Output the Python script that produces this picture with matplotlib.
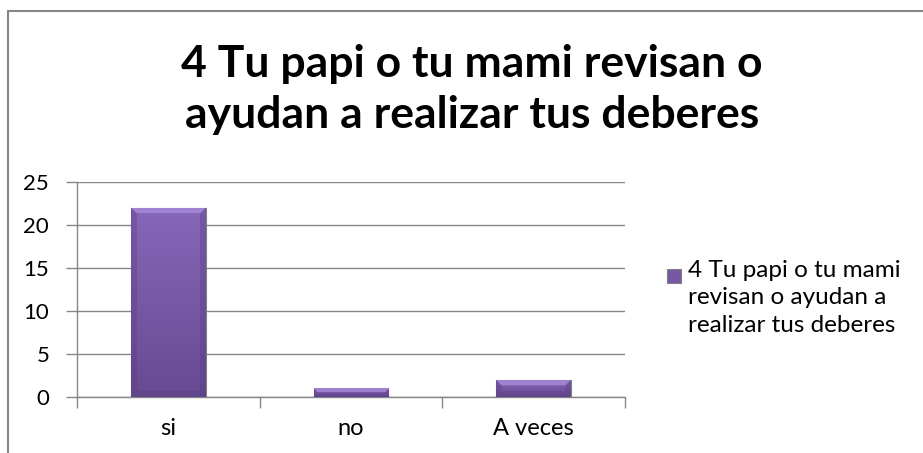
import numpy as np
import matplotlib
matplotlib.use("Agg")
import matplotlib.pyplot as plt
from matplotlib.patches import Rectangle
from matplotlib.colors import to_rgb
from matplotlib.container import BarContainer
from matplotlib.legend_handler import HandlerPatch, update_from_first_child

# chart data
categories = ["si", "no", "A veces"]
values = [22, 1, 2]
title_lines = ["4 Tu papi o tu mami revisan o", "ayudan a realizar tus deberes"]
legend_label = "4 Tu papi o tu mami\nrevisan o ayudan a\nrealizar tus deberes"
y_ticks = [0, 5, 10, 15, 20, 25]

plt.rcParams['font.family'] = ['Lato', 'DejaVu Sans']

W, H = 923, 453
fig = plt.figure(figsize=(W / 100, H / 100), dpi=100)
ax = fig.add_axes([77 / W, 1 - 397 / H, (625 - 77) / W, (397 - 182) / H])

grid_col = '#868686'
x = np.arange(len(categories))
bars = ax.bar(x, values, width=0.41, color='#7658a3', edgecolor='#808080',
              linewidth=0.8, label=legend_label, zorder=3)


def bevel_image(w, h, b=6):
    """Excel-like bevelled purple fill, w x h pixels."""
    top = np.array(to_rgb('#8767b9'))
    bot = np.array(to_rgb('#674a92'))
    light = np.array(to_rgb('#a88dd9'))
    dark = np.array(to_rgb('#563c7e'))
    img = np.zeros((h, w, 3))
    for r in range(h):
        t = r / max(h - 1, 1)
        base = top * (1 - t) + bot * t
        for c in range(w):
            col = base
            if r < b and r <= c and r <= w - 1 - c:
                col = light * 0.75 + base * 0.25
            elif c < b or c >= w - b:
                col = dark * 0.35 + base * 0.65
            elif r >= h - b:
                col = dark * 0.3 + base * 0.7
            img[r, c] = col
    return img


ax.set_xlim(-0.5, len(categories) - 0.5)
ax.set_ylim(0, 25)
for bar in bars:
    x0, y0 = bar.get_x(), bar.get_y()
    x1, y1 = x0 + bar.get_width(), y0 + bar.get_height()
    (px0, py0), (px1, py1) = ax.transData.transform([(x0, y0), (x1, y1)])
    wpx = max(int(round(px1 - px0)), 2)
    hpx = max(int(round(py1 - py0)), 2)
    im = ax.imshow(bevel_image(wpx, hpx, b=min(6, hpx // 2)),
                   extent=(x0, x1, y0, y1), origin='upper', aspect='auto',
                   interpolation='bilinear', zorder=3.5)
    im.set_clip_path(bar)
ax.set_xlim(-0.5, len(categories) - 0.5)
ax.set_ylim(0, 25)

ax.set_yticks(y_ticks)
ax.yaxis.grid(True, color=grid_col, lw=1.0)
ax.set_axisbelow(True)
for s in ['top', 'right']:
    ax.spines[s].set_visible(False)
for s in ['left', 'bottom']:
    ax.spines[s].set_color(grid_col)
    ax.spines[s].set_linewidth(1.0)

ax.set_xticks(np.arange(-0.5, len(categories)), labels=[])
ax.set_xticks(x, labels=categories, minor=True)
ax.tick_params(axis='x', which='major', length=8, width=1.0, color=grid_col)
ax.tick_params(axis='x', which='minor', length=0, pad=15, labelsize=17)
ax.tick_params(axis='y', length=8, width=1.0, color=grid_col, pad=12, labelsize=16)


# small square next to the first line of the legend text
def legend_square(legend, orig_handle, xdescent, ydescent, width, height, fontsize):
    side = 10.0
    return Rectangle((-xdescent, -ydescent + height - side - 6.5), side, side)


leg = ax.legend(handles=[bars], loc='upper left', bbox_to_anchor=(667 / W, 1 - 260 / H),
                bbox_transform=fig.transFigure, frameon=False, fontsize=17.5,
                handlelength=0.6, handleheight=1.0, handletextpad=0.25,
                borderpad=0, borderaxespad=0,
                handler_map={BarContainer: HandlerPatch(patch_func=legend_square,
                                                        update_func=update_from_first_child)})
for t in leg.get_texts():
    t.set_linespacing(1.38)
for col in leg._legend_handle_box.get_children():
    for item in col.get_children():
        item.align = 'top'

fig.text(472 / W, 1 - 77 / H, title_lines[0], ha='center', va='baseline',
         fontsize=32, fontweight='bold')
fig.text(472 / W, 1 - 128 / H, title_lines[1], ha='center', va='baseline',
         fontsize=32, fontweight='bold')

fig.add_artist(Rectangle((8 / W, -0.05), 1.2, 1 - 11 / H + 0.05, transform=fig.transFigure,
                         fill=False, edgecolor=grid_col, lw=1.5))

fig.savefig("out.png", dpi=100)
